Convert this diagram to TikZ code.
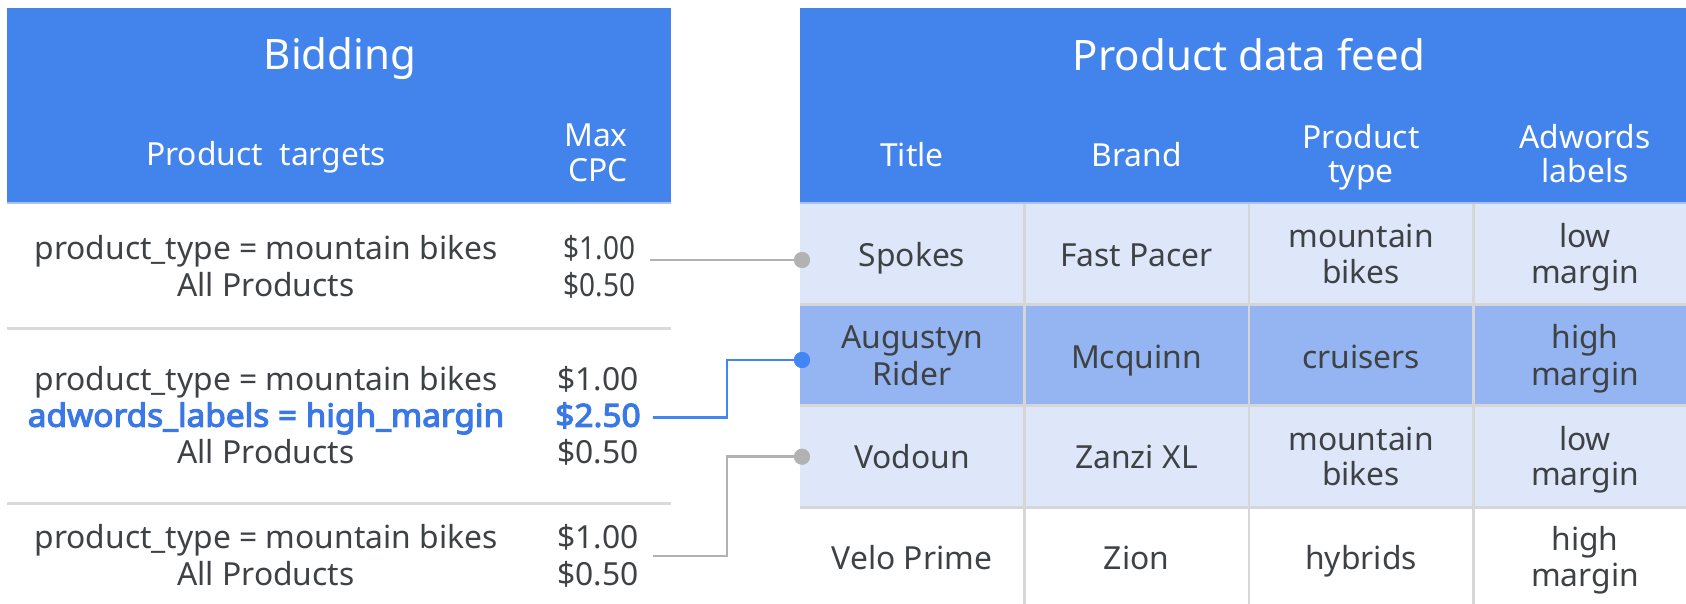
\documentclass[tikz,border=0pt]{standalone}
\usepackage{fontspec}
\setmainfont{Noto Sans}
\newfontfamily\nsbold[FakeBold=3.6,FakeStretch=1.05]{Noto Sans}
\newfontfamily\nsnarrow[FakeStretch=0.88]{Noto Sans}
\definecolor{hdrblue}{HTML}{4283EC}
\definecolor{hdrline}{HTML}{A9C2EE}
\definecolor{lightrow}{HTML}{DEE7FA}
\definecolor{hirow}{HTML}{94B5F2}
\definecolor{gridgray}{HTML}{D6D6D6}
\definecolor{sepgray}{HTML}{DADADA}
\definecolor{textgray}{HTML}{3F4245}
\definecolor{hiblue}{HTML}{3B78E7}
\definecolor{conngray}{HTML}{B2B2B2}
\definecolor{dotblue}{HTML}{4285F4}
\begin{document}
\begin{tikzpicture}[x=1pt,y=-1pt,
  txt/.style={anchor=base, inner sep=0pt, font=\fontsize{31.8}{36}\selectfont, text=textgray},
  nprice/.style={txt, font=\nsnarrow\fontsize{31.8}{36}\selectfont},
  hdr/.style={txt, text=white},
  ttl/.style={anchor=base, inner sep=0pt, font=\fontsize{42}{48}\selectfont, text=white},
  blu/.style={anchor=base, inner sep=0pt, font=\nsbold\fontsize{31.8}{36}\selectfont, text=hiblue},
  dotnode/.style={circle, inner sep=0pt, minimum size=16pt},
  conn/.style={line width=2.5pt},
  gridline/.style={draw=gridgray, line width=2.5pt},
  sepline/.style={draw=sepgray, line width=3pt}]
\useasboundingbox (0,0) rectangle (1686,604);
\clip (0,0) rectangle (1686,604);
% headers
\fill[hdrblue] (7,8.5) rectangle (671,202);
\fill[hdrblue] (800,8.5) rectangle (1700,202);
\draw[hdrline, line width=2pt] (7,203) -- (671,203);
% right table rows
\fill[lightrow] (800,202) rectangle (1700,305);
\fill[hirow] (800,305) rectangle (1700,406);
\fill[lightrow] (800,406) rectangle (1700,507);
\draw[hdrline, line width=2pt] (800,203) -- (1700,203);
% grid
\foreach \gx in {1024.5,1249,1473.5} \draw[gridline] (\gx,204) -- (\gx,604);
\foreach \gy in {304.5,405.5,507.5} \draw[gridline] (800,\gy) -- (1700,\gy);
% left separators
\draw[sepline] (7,328.3) -- (671,328.3);
\draw[sepline] (7,503.3) -- (671,503.3);

% left header texts
\node[ttl] (bid) at (340,70) {Bidding};
\node[hdr] (ptg) at (266,165.7) {Product\ \ targets};
\node[hdr] (max) at (596,146.7) {Max};
\node[hdr] (cpc) at (598,181.7) {CPC};

% left rows
\node[txt] (r1a) at (266,259.3) {product\_type = mountain bikes};
\node[txt] (r1b) at (266,296) {All Products};
\node[nprice] (r1p1) at (599.5,259.3) {\$1.00};
\node[nprice] (r1p2) at (599.5,296) {\$0.50};

\node[txt] (r2a) at (266,390) {product\_type = mountain bikes};
\node[blu] (r2b) at (266,426.7) {adwords\_labels = high\_margin};
\node[txt] (r2c) at (266,463.3) {All Products};
\node[txt] (r2p1) at (598,390) {\$1.00};
\node[blu] (r2p2) at (598,426.7) {\$2.50};
\node[txt] (r2p3) at (598,463.3) {\$0.50};

\node[txt] (r3a) at (266,548.3) {product\_type = mountain bikes};
\node[txt] (r3b) at (266,585) {All Products};
\node[txt] (r3p1) at (598,548.3) {\$1.00};
\node[txt] (r3p2) at (598,585) {\$0.50};

% right header texts
\node[ttl] (pdf) at (1249,70.5) {Product data feed};
\node[hdr] (hT) at (912,166.7) {Title};
\node[hdr] (hB) at (1136.5,166.7) {Brand};
\node[hdr] (hP1) at (1361,148.3) {Product};
\node[hdr] (hP2) at (1361,182.7) {type};
\node[hdr] (hA1) at (1585,148.3) {Adwords};
\node[hdr] (hA2) at (1585,182.7) {labels};

% row 1
\node[txt] (a1) at (912,266.7) {Spokes};
\node[txt] (b1) at (1136.5,266.7) {Fast Pacer};
\node[txt] (c1a) at (1361,247.3) {mountain};
\node[txt] (c1b) at (1361,283.3) {bikes};
\node[txt] (e1a) at (1585,247.3) {low};
\node[txt] (e1b) at (1585,283.3) {margin};
% row 2
\node[txt] (a2a) at (912,348.3) {Augustyn};
\node[txt] (a2b) at (912,385) {Rider};
\node[txt] (b2) at (1136.5,368.3) {Mcquinn};
\node[txt] (c2) at (1361,368.3) {cruisers};
\node[txt] (e2a) at (1585,348.3) {high};
\node[txt] (e2b) at (1585,385) {margin};
% row 3
\node[txt] (a3) at (912,468) {Vodoun};
\node[txt] (b3) at (1136.5,468) {Zanzi XL};
\node[txt] (c3a) at (1361,450) {mountain};
\node[txt] (c3b) at (1361,485.5) {bikes};
\node[txt] (e3a) at (1585,450) {low};
\node[txt] (e3b) at (1585,485.5) {margin};
% row 4
\node[txt] (a4) at (912,569) {Velo Prime};
\node[txt] (b4) at (1136.5,569) {Zion};
\node[txt] (c4) at (1361,569) {hybrids};
\node[txt] (e4a) at (1585,550.7) {high};
\node[txt] (e4b) at (1585,586) {margin};

% connectors
\node[dotnode, fill=conngray] (d1) at (802,260) {};
\node[dotnode, fill=dotblue] (d2) at (802,360) {};
\node[dotnode, fill=conngray] (d3) at (802,456.7) {};
\coordinate (s1) at (650,260);
\coordinate (s2) at (653,417.3);
\coordinate (s3) at (653,556);
\draw[conn, draw=conngray] (s1) -- (d1.center);
\draw[conn, draw=dotblue] (s2) -- (727,417.3) -- (727,360) -- (d2.center);
\draw[conn, draw=conngray] (s3) -- (727,556) -- (727,456.7) -- (d3.center);
\node[dotnode, fill=conngray] at (d1) {};
\node[dotnode, fill=dotblue] at (d2) {};
\node[dotnode, fill=conngray] at (d3) {};
\end{tikzpicture}
\end{document}
